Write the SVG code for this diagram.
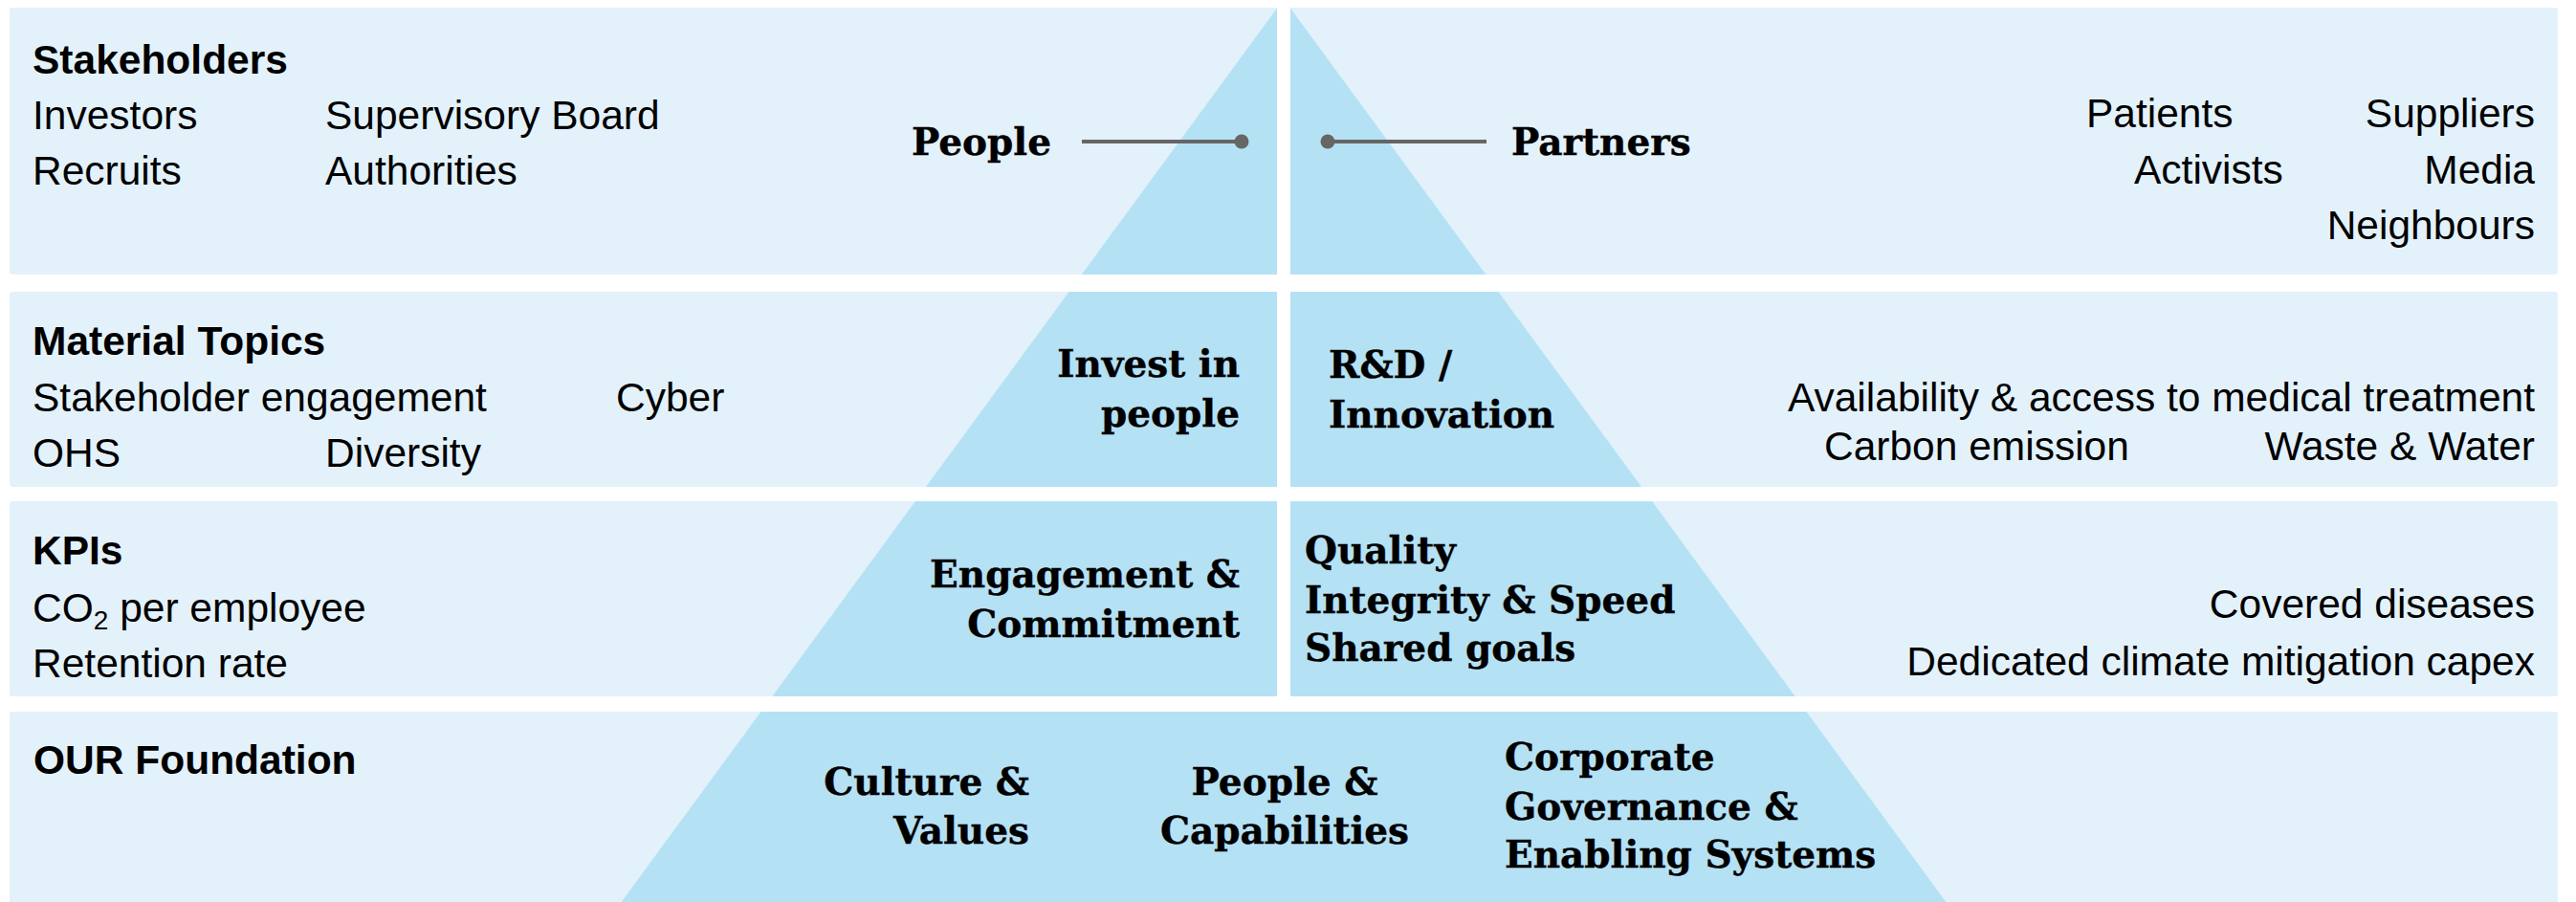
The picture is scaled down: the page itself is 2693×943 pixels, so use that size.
<svg xmlns="http://www.w3.org/2000/svg" width="2693" height="943" viewBox="0 0 2693 943">
<defs>
<style>
.band{fill:#e3f1fb;}
.tri{fill:#b5e1f5;}
.gap{fill:#ffffff;}
.s{font-family:"Liberation Sans",Arial,sans-serif;font-size:42.5px;fill:#000;}
.h{font-family:"Liberation Sans",Arial,sans-serif;font-size:42.5px;font-weight:bold;fill:#000;}
.r{text-anchor:end;}
.m{text-anchor:middle;}
.f{font-family:"DejaVu Serif","Liberation Serif",serif;font-size:39px;font-weight:bold;fill:#000;stroke:#000;stroke-width:0.4px;}
.conn{stroke:#666666;stroke-width:4;fill:none;}
.dot{fill:#666666;}
</style>
<clipPath id="bands">
<rect x="10" y="8" width="2664" height="279" rx="3"/>
<rect x="10" y="305" width="2664" height="204" rx="3"/>
<rect x="10" y="524" width="2664" height="204" rx="3"/>
<rect x="10" y="744" width="2664" height="210" rx="3"/>
</clipPath>
</defs>
<g id="backgrounds">
<rect class="band" x="10" y="8" width="2664" height="279" rx="3"/>
<rect class="band" x="10" y="305" width="2664" height="204" rx="3"/>
<rect class="band" x="10" y="524" width="2664" height="204" rx="3"/>
<rect class="band" x="10" y="744" width="2664" height="210" rx="3"/>
<polygon class="tri" clip-path="url(#bands)" points="1342,-1 2034.4,943 649.6,943"/>
<rect class="gap" x="1335" y="0" width="14" height="744"/>
</g>
<g id="stakeholders">
<text class="h" x="34" y="77">Stakeholders</text>
<text class="s" x="34" y="135">Investors</text>
<text class="s" x="340" y="135">Supervisory Board</text>
<text class="s" x="34" y="193">Recruits</text>
<text class="s" x="340" y="193">Authorities</text>
<text class="s" x="2181" y="133">Patients</text>
<text class="s r" x="2650" y="133">Suppliers</text>
<text class="s" x="2231" y="192">Activists</text>
<text class="s r" x="2650" y="192">Media</text>
<text class="s r" x="2650" y="250">Neighbours</text>
</g>
<g id="people">
<text class="f" x="953" y="162">People</text>
</g>
<g id="partners">
<text class="f" x="1580" y="162">Partners</text>
</g>
<g id="material-topics">
<text class="h" x="34" y="371">Material Topics</text>
<text class="s" x="34" y="430">Stakeholder engagement</text>
<text class="s" x="644" y="430">Cyber</text>
<text class="s" x="34" y="488">OHS</text>
<text class="s" x="340" y="488">Diversity</text>
<text class="s r" x="2650" y="430">Availability &amp; access to medical treatment</text>
<text class="s" x="1907" y="481">Carbon emission</text>
<text class="s r" x="2650" y="481">Waste &amp; Water</text>
</g>
<g id="invest-in-people">
<text class="f r" x="1296" y="394">Invest in</text>
<text class="f r" x="1296" y="446">people</text>
</g>
<g id="rd-innovation">
<text class="f" x="1389" y="395">R&amp;D /</text>
<text class="f" x="1389" y="447">Innovation</text>
</g>
<g id="kpis">
<text class="h" x="34" y="590">KPIs</text>
<text class="s" x="34" y="650"><tspan>CO</tspan><tspan font-size="28" dy="8">2</tspan><tspan dy="-8"> per employee</tspan></text>
<text class="s" x="34" y="708">Retention rate</text>
<text class="s r" x="2650" y="646">Covered diseases</text>
<text class="s r" x="2650" y="706">Dedicated climate mitigation capex</text>
</g>
<g id="engagement-commitment">
<text class="f r" x="1296" y="614">Engagement &amp;</text>
<text class="f r" x="1296" y="666">Commitment</text>
</g>
<g id="quality">
<text class="f" x="1364" y="589">Quality</text>
<text class="f" x="1364" y="641">Integrity &amp; Speed</text>
<text class="f" x="1364" y="691">Shared goals</text>
</g>
<g id="foundation">
<text class="h" x="35" y="809">OUR Foundation</text>
</g>
<g id="culture-values">
<text class="f r" x="1076" y="831">Culture &amp;</text>
<text class="f r" x="1076" y="882">Values</text>
</g>
<g id="people-capabilities">
<text class="f m" x="1343" y="831">People &amp;</text>
<text class="f m" x="1343" y="882">Capabilities</text>
</g>
<g id="corporate-governance">
<text class="f" x="1573" y="805">Corporate</text>
<text class="f" x="1573" y="857">Governance &amp;</text>
<text class="f" x="1573" y="907">Enabling Systems</text>
</g>
<g id="connectors">
<line class="conn" x1="1131" y1="148" x2="1298" y2="148"/>
<circle class="dot" cx="1298" cy="148" r="7.5"/>
<line class="conn" x1="1388" y1="148" x2="1554" y2="148"/>
<circle class="dot" cx="1388" cy="148" r="7.5"/>
</g>
</svg>
